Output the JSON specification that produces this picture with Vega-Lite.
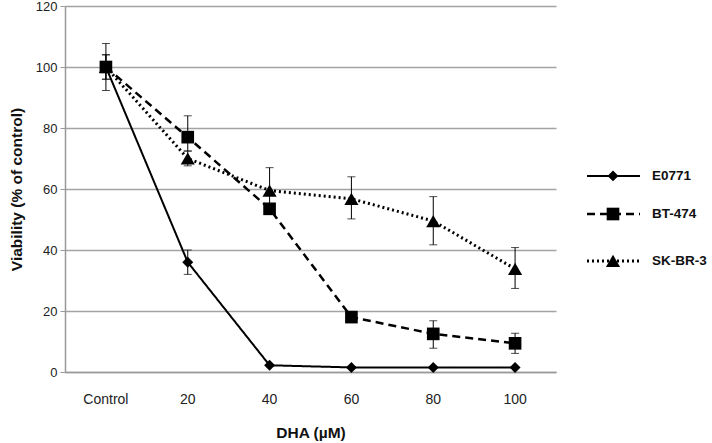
{
  "$schema": "https://vega.github.io/schema/vega-lite/v6.json",
  "background": "white",
  "padding": {"left": 9, "top": 0, "right": 5, "bottom": 0},
  "config": {
    "view": {"stroke": null},
    "font": "Liberation Sans",
    "concat": {"spacing": 20}
  },
  "datasets": {
    "main": [
      {"dose": "Control", "series": "E0771", "v": 100, "lo": 92.3, "hi": 107.7},
      {"dose": "20", "series": "E0771", "v": 36, "lo": 32, "hi": 40},
      {"dose": "40", "series": "E0771", "v": 2.2, "lo": 2.2, "hi": 2.2},
      {"dose": "60", "series": "E0771", "v": 1.5, "lo": 1.5, "hi": 1.5},
      {"dose": "80", "series": "E0771", "v": 1.5, "lo": 1.5, "hi": 1.5},
      {"dose": "100", "series": "E0771", "v": 1.5, "lo": 1.5, "hi": 1.5},
      {"dose": "Control", "series": "BT-474", "v": 100, "lo": 96, "hi": 104},
      {"dose": "20", "series": "BT-474", "v": 77, "lo": 72.5, "hi": 84},
      {"dose": "40", "series": "BT-474", "v": 53.5, "lo": 52, "hi": 55},
      {"dose": "60", "series": "BT-474", "v": 18, "lo": 16.5, "hi": 19.5},
      {"dose": "80", "series": "BT-474", "v": 12.5, "lo": 7.8, "hi": 16.8},
      {"dose": "100", "series": "BT-474", "v": 9.4, "lo": 6.1, "hi": 12.7},
      {"dose": "Control", "series": "SK-BR-3", "v": 100, "lo": 96, "hi": 104},
      {"dose": "20", "series": "SK-BR-3", "v": 70, "lo": 67.6, "hi": 72.4},
      {"dose": "40", "series": "SK-BR-3", "v": 59.5, "lo": 52, "hi": 67},
      {"dose": "60", "series": "SK-BR-3", "v": 56.8, "lo": 50.2, "hi": 64},
      {"dose": "80", "series": "SK-BR-3", "v": 49.5, "lo": 41.7, "hi": 57.5},
      {"dose": "100", "series": "SK-BR-3", "v": 33.8, "lo": 27.4, "hi": 40.8}
    ],
    "legend": [
      {"series": "E0771", "x": 11, "y": 64.3, "part": "line"},
      {"series": "E0771", "x": 64, "y": 64.3, "part": "line"},
      {"series": "BT-474", "x": 11, "y": 51.8, "part": "line"},
      {"series": "BT-474", "x": 64, "y": 51.8, "part": "line"},
      {"series": "SK-BR-3", "x": 11, "y": 36.4, "part": "line"},
      {"series": "SK-BR-3", "x": 64, "y": 36.4, "part": "line"},
      {"series": "E0771", "x": 37, "y": 64.3, "part": "mark"},
      {"series": "BT-474", "x": 37, "y": 51.8, "part": "mark"},
      {"series": "SK-BR-3", "x": 37, "y": 36.4, "part": "mark"}
    ]
  },
  "hconcat": [
    {
      "width": 491,
      "height": 366,
      "data": {"name": "main"},
      "encoding": {
        "x": {
          "field": "dose", "type": "nominal",
          "sort": ["Control", "20", "40", "60", "80", "100"],
          "scale": {"paddingInner": 0, "paddingOuter": 0},
          "axis": {
            "title": "DHA (\u00b5M)", "titleFontSize": 15.5, "titleFontWeight": "bold", "titleColor": "#111",
            "titlePadding": 19,
            "labelAngle": 0, "labelFontSize": 14, "labelColor": "#222", "labelPadding": 20,
            "ticks": false, "domainColor": "#999", "domainWidth": 1.5, "grid": false
          }
        }
      },
      "layer": [
        {
          "mark": {"type": "line", "color": "black"},
          "encoding": {
            "y": {
              "field": "v", "type": "quantitative",
              "scale": {"domain": [0, 120], "nice": false},
              "axis": {
                "title": "Viability (% of control)", "titleFontSize": 15.5, "titleFontWeight": "bold", "titleColor": "#111",
                "titlePadding": 11,
                "values": [0, 10, 20, 30, 40, 50, 60, 70, 80, 90, 100, 110, 120],
                "labelExpr": "datum.value % 20 === 0 ? datum.label : ''",
                "labelFontSize": 13, "labelColor": "#222", "labelPadding": 3,
                "tickColor": "#999", "tickSize": 5,
                "domainColor": "#999", "domainWidth": 1.5,
                "grid": true, "gridColor": "#a3a3a3", "gridWidth": 1.5,
                "gridOpacity": {"condition": {"test": "datum.value % 20 === 0", "value": 1}, "value": 0}
              }
            },
            "strokeDash": {
              "field": "series", "type": "nominal",
              "scale": {"domain": ["E0771", "BT-474", "SK-BR-3"], "range": [[1, 0], [8, 5], [2, 3]]},
              "legend": null
            },
            "strokeWidth": {
              "field": "series", "type": "nominal",
              "scale": {"domain": ["E0771", "BT-474", "SK-BR-3"], "range": [2, 3, 2.5]},
              "legend": null
            }
          }
        },
        {
          "mark": {"type": "rule", "color": "black", "strokeWidth": 1},
          "encoding": {"y": {"field": "lo", "type": "quantitative"}, "y2": {"field": "hi"}}
        },
        {
          "mark": {"type": "tick", "color": "black", "thickness": 1, "size": 8},
          "encoding": {"y": {"field": "lo", "type": "quantitative"}}
        },
        {
          "mark": {"type": "tick", "color": "black", "thickness": 1, "size": 8},
          "encoding": {"y": {"field": "hi", "type": "quantitative"}}
        },
        {
          "mark": {"type": "point", "filled": true, "color": "black", "opacity": 1},
          "encoding": {
            "y": {"field": "v", "type": "quantitative"},
            "shape": {
              "field": "series", "type": "nominal",
              "scale": {"domain": ["E0771", "BT-474", "SK-BR-3"], "range": ["diamond", "square", "triangle-up"]},
              "legend": null
            },
            "size": {
              "field": "series", "type": "nominal",
              "scale": {"domain": ["E0771", "BT-474", "SK-BR-3"], "range": [120, 200, 140]},
              "legend": null
            }
          }
        }
      ]
    },
    {
      "width": 120,
      "height": 366,
      "data": {"name": "legend"},
      "encoding": {
        "x": {"field": "x", "type": "quantitative", "scale": {"domain": [0, 120]}, "axis": null},
        "y": {"field": "y", "type": "quantitative", "scale": {"domain": [0, 120], "nice": false}, "axis": null}
      },
      "layer": [
        {
          "transform": [{"filter": "datum.part === 'line'"}],
          "mark": {"type": "line", "color": "black"},
          "encoding": {
            "detail": {"field": "series"},
            "strokeDash": {
              "field": "series", "type": "nominal",
              "scale": {"domain": ["E0771", "BT-474", "SK-BR-3"], "range": [[1, 0], [8, 5], [2, 3]]},
              "legend": null
            },
            "strokeWidth": {
              "field": "series", "type": "nominal",
              "scale": {"domain": ["E0771", "BT-474", "SK-BR-3"], "range": [2, 3, 2.5]},
              "legend": null
            }
          }
        },
        {
          "transform": [{"filter": "datum.part === 'mark'"}],
          "mark": {"type": "point", "filled": true, "color": "black", "opacity": 1},
          "encoding": {
            "shape": {
              "field": "series", "type": "nominal",
              "scale": {"domain": ["E0771", "BT-474", "SK-BR-3"], "range": ["diamond", "square", "triangle-up"]},
              "legend": null
            },
            "size": {
              "field": "series", "type": "nominal",
              "scale": {"domain": ["E0771", "BT-474", "SK-BR-3"], "range": [120, 200, 140]},
              "legend": null
            }
          }
        },
        {
          "transform": [{"filter": "datum.part === 'mark'"}],
          "mark": {"type": "text", "align": "left", "baseline": "middle", "dx": 39, "fontSize": 13.5, "fontWeight": "bold", "color": "#111"},
          "encoding": {"text": {"field": "series"}}
        }
      ]
    }
  ]
}
